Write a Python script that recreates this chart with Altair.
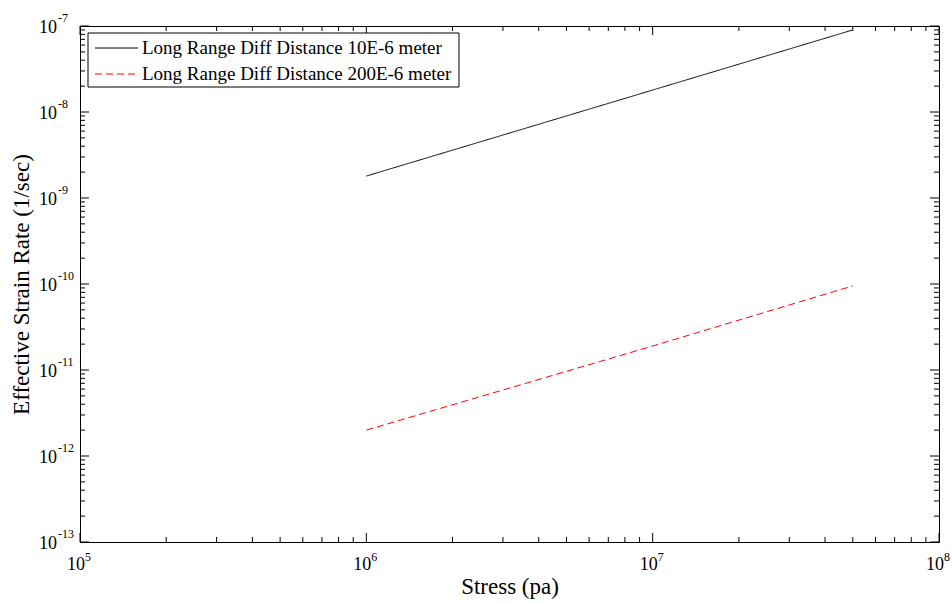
import altair as alt
import pandas as pd

# ---- data ----
stress = [1e6, 1e7, 5e7]
rate_10um = [1.8e-9, 1.8e-8, 9.0e-8]
rate_200um = [2.0e-12, 1.9e-11, 9.5e-11]
series_names = ["Long Range Diff Distance 10E-6 meter",
                "Long Range Diff Distance 200E-6 meter"]
series_colors = ["black", "red"]
series_dash = [[1, 0], [7, 4]]

x_major = [1e5, 1e6, 1e7, 1e8]
x_exp = ["5", "6", "7", "8"]
y_major = [1e-13, 1e-12, 1e-11, 1e-10, 1e-9, 1e-8, 1e-7]
y_exp = ["-13", "-12", "-11", "-10", "-9", "-8", "-7"]
x_minor = [m * 10 ** k for k in range(5, 8) for m in range(2, 10)]
y_minor = [m * 10.0 ** k for k in range(-13, -7) for m in range(2, 10)]

FONT = "Liberation Serif"
W, H = 859, 516
MAJ, MIN = 9, 5

xs = alt.Scale(type="log", domain=[1e5, 1e8], nice=False)
ys = alt.Scale(type="log", domain=[1e-13, 1e-7], nice=False)
xaxis = alt.Axis(title="Stress (pa)", labels=False, ticks=False, domain=False,
                 grid=False, titleFont=FONT, titleFontSize=23,
                 titleFontWeight="normal", titleColor="black", titlePadding=33)
yaxis = alt.Axis(title="Effective Strain Rate (1/sec)", labels=False, ticks=False,
                 domain=False, grid=False, titleFont=FONT, titleFontSize=23,
                 titleFontWeight="normal", titleColor="black", titlePadding=47)


def X(field="x"):
    return alt.X(f"{field}:Q", scale=xs, axis=xaxis)


def Y(field="y"):
    return alt.Y(f"{field}:Q", scale=ys, axis=yaxis)


rows = []
for s, a, b in zip(stress, rate_10um, rate_200um):
    rows.append({"x": s, "y": a, "series": series_names[0]})
    rows.append({"x": s, "y": b, "series": series_names[1]})
df = pd.DataFrame(rows)

lines = alt.Chart(df).mark_line(strokeWidth=1, clip=True).encode(
    x=X(), y=Y(),
    color=alt.Color("series:N", scale=alt.Scale(domain=series_names, range=series_colors), legend=None),
    strokeDash=alt.StrokeDash("series:N", scale=alt.Scale(domain=series_names, range=series_dash), legend=None),
    detail="series:N",
)

layers = [lines]

# ---- inward ticks on all four sides ----
for vals, ln in ((x_major, MAJ), (x_minor, MIN)):
    d = pd.DataFrame({"x": vals})
    layers.append(alt.Chart(d).mark_rule(color="black", strokeWidth=1).encode(
        x=X(), y=alt.value(H), y2=alt.value(H - ln)))
    layers.append(alt.Chart(d).mark_rule(color="black", strokeWidth=1).encode(
        x=X(), y=alt.value(0), y2=alt.value(ln)))
for vals, ln in ((y_major, MAJ), (y_minor, MIN)):
    d = pd.DataFrame({"y": vals})
    layers.append(alt.Chart(d).mark_rule(color="black", strokeWidth=1).encode(
        y=Y(), x=alt.value(0), x2=alt.value(ln)))
    layers.append(alt.Chart(d).mark_rule(color="black", strokeWidth=1).encode(
        y=Y(), x=alt.value(W), x2=alt.value(W - ln)))

# ---- tick labels with superscript exponents ----
xl = pd.DataFrame({"x": x_major, "e": x_exp, "b": ["10"] * len(x_major)})
layers.append(alt.Chart(xl).mark_text(align="center", baseline="alphabetic", dx=-4,
                                      font=FONT, fontSize=18, color="black").encode(
    x=X(), y=alt.value(H + 28), text="b:N"))
layers.append(alt.Chart(xl).mark_text(align="left", baseline="alphabetic", dx=5,
                                      font=FONT, fontSize=12, color="black").encode(
    x=X(), y=alt.value(H + 19), text="e:N"))

yl = pd.DataFrame({"y": y_major, "e": y_exp, "b": ["10"] * len(y_major)})
layers.append(alt.Chart(yl).mark_text(align="right", baseline="alphabetic", dy=7,
                                      font=FONT, fontSize=18, color="black").encode(
    y=Y(), x=alt.value(-23), text="b:N"))
layers.append(alt.Chart(yl).mark_text(align="left", baseline="alphabetic", dy=-4,
                                      font=FONT, fontSize=12, color="black").encode(
    y=Y(), x=alt.value(-22), text="e:N"))

# ---- legend box ----
one = pd.DataFrame({"k": [0]})
layers.append(alt.Chart(one).mark_rect(fill="white", stroke="black", strokeWidth=1).encode(
    x=alt.value(8), x2=alt.value(379), y=alt.value(7), y2=alt.value(61)))
for i, name in enumerate(series_names):
    yy = 22 + 26 * i
    dd = pd.DataFrame({"name": [name]})
    layers.append(alt.Chart(dd).mark_rule(color=series_colors[i], strokeWidth=1,
                                          strokeDash=series_dash[i]).encode(
        x=alt.value(15), x2=alt.value(58), y=alt.value(yy)))
    layers.append(alt.Chart(dd).mark_text(align="left", baseline="middle", font=FONT,
                                          fontSize=19, color="black").encode(
        x=alt.value(62), y=alt.value(yy), text="name:N"))

chart = alt.layer(*layers).properties(
    width=W, height=H,
    autosize=alt.AutoSizeParams(type="none"),
    padding={"left": 80, "top": 26, "right": 13, "bottom": 61},
    background="white",
).configure_view(stroke="black", strokeWidth=1)

chart.save("out.html", embed_options={"renderer": "svg", "actions": False})
